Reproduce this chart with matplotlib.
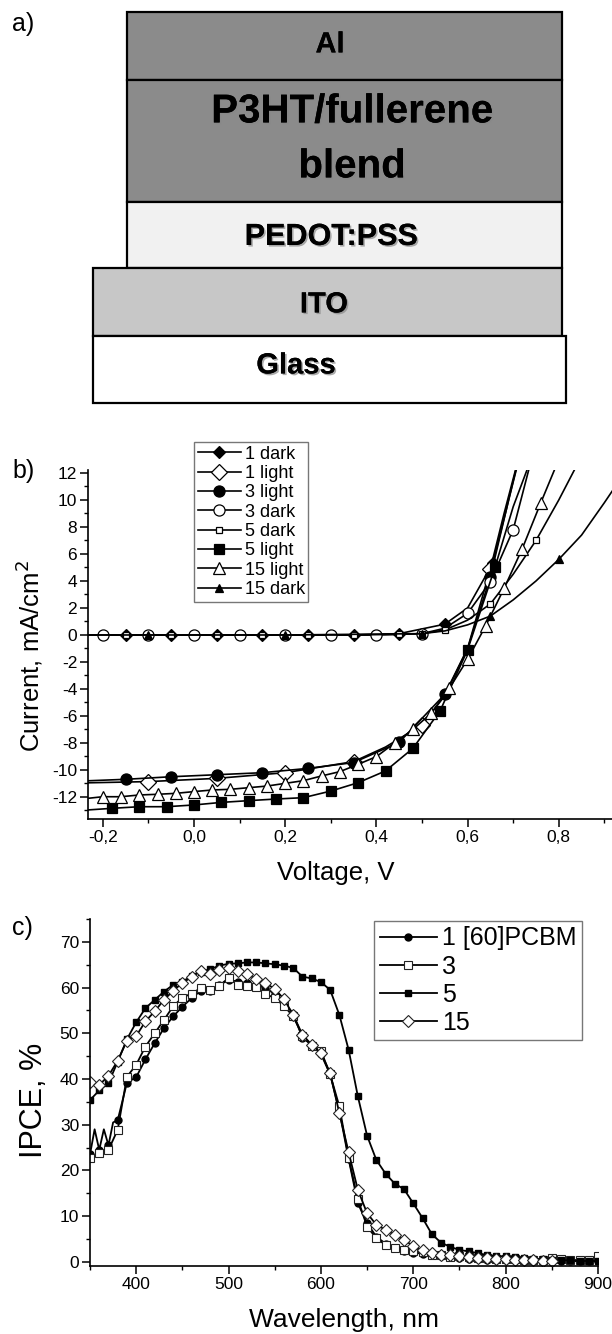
import numpy as np
import matplotlib
matplotlib.use("Agg")
import matplotlib.pyplot as plt
import matplotlib.patheffects as pe
from matplotlib.ticker import MultipleLocator, FuncFormatter

plt.rcParams['font.family'] = ['Liberation Sans', 'DejaVu Sans']
plt.rcParams['axes.unicode_minus'] = False

# ---- a) device stack ----
layer_names = ["Al", "P3HT/fullerene\nblend", "PEDOT:PSS", "ITO", "Glass"]
layer_heights = np.array([68, 122, 66, 68, 67])
layer_left = np.array([127, 127, 127, 93, 93])
layer_right = np.array([562, 562, 562, 562, 566])
layer_colors = ["#8b8b8b", "#8b8b8b", "#f1f1f1", "#c7c7c7", "#ffffff"]
layer_text_x = [330, 352, 331, 324, 296]
layer_text_y = [42, 108, 234, 302, 363]   # centre of the first text line
layer_font = [21, 29, 22, 21, 21]

# ---- b) J-V curves ----
jv_labels = ["1 dark", "1 light", "3 light", "3 dark", "5 dark", "5 light", "15 light", "15 dark"]
jv_x = [
    [-0.233, -0.15, -0.05, 0.05, 0.15, 0.25, 0.35, 0.45, 0.55, 0.6, 0.655, 0.685, 0.715],
    [-0.233, -0.1, 0.05, 0.2, 0.35, 0.42, 0.5, 0.55, 0.6, 0.65, 0.68, 0.715],
    [-0.233, -0.15, -0.05, 0.05, 0.15, 0.25, 0.35, 0.45, 0.55, 0.6, 0.65, 0.69, 0.72],
    [-0.233, -0.2, -0.1, 0.0, 0.1, 0.2, 0.3, 0.4, 0.5, 0.55, 0.6, 0.65, 0.7, 0.74],
    [-0.233, -0.15, -0.05, 0.05, 0.15, 0.25, 0.35, 0.45, 0.5, 0.55, 0.6, 0.65, 0.7, 0.75, 0.8, 0.84],
    [-0.233, -0.18, -0.12, -0.06, 0.0, 0.06, 0.12, 0.18, 0.24, 0.30, 0.36, 0.42, 0.48, 0.54, 0.6, 0.66, 0.7, 0.75],
    [-0.233, -0.2, -0.16, -0.12, -0.08, -0.04, 0.0, 0.04, 0.08, 0.12, 0.16, 0.2, 0.24, 0.28, 0.32, 0.36,
     0.4, 0.44, 0.48, 0.52, 0.56, 0.6, 0.64, 0.68, 0.72, 0.76, 0.8],
    [-0.233, -0.1, 0.2, 0.5, 0.55, 0.6, 0.65, 0.7, 0.75, 0.8, 0.85, 0.9, 0.93],
]
jv_y = [
    [0, 0, 0, 0, 0, 0, 0, 0.1, 0.8, 2.0, 5.3, 9.3, 13.5],
    [-10.95, -10.86, -10.62, -10.2, -9.38, -8.3, -6.67, -4.5, -1.0, 4.9, 9.0, 13.5],
    [-10.8, -10.69, -10.5, -10.35, -10.2, -9.88, -9.45, -7.95, -4.4, -1.0, 4.3, 10.0, 14.0],
    [0, 0, 0, 0, 0, 0, 0, 0, 0.1, 0.5, 1.6, 3.95, 7.8, 13.0],
    [0, 0, 0, 0, 0, 0, 0, 0.05, 0.1, 0.37, 1.1, 2.3, 4.5, 7.0, 10.0, 12.6],
    [-12.96, -12.84, -12.72, -12.72, -12.59, -12.4, -12.27, -12.15, -12.05, -11.56, -10.94, -10.07,
     -8.4, -5.6, -1.1, 5.0, 9.5, 14.0],
    [-12.1, -11.98, -11.98, -11.85, -11.8, -11.73, -11.6, -11.48, -11.43, -11.31, -11.19, -10.99,
     -10.79, -10.44, -10.12, -9.58, -9.01, -8.0, -7.0, -5.8, -3.95, -1.8, 0.7, 3.45, 6.4, 9.75, 13.0],
    [0, 0, 0, 0.1, 0.3, 0.75, 1.4, 2.6, 4.0, 5.6, 7.4, 9.8, 11.3],
]
# which measured points carry a symbol
jv_marked = [
    [1, 2, 3, 4, 5, 6, 7, 8, 10],
    [1, 2, 3, 4, 6, 9],
    [1, 2, 3, 4, 5, 6, 7, 8, 10],
    [1, 2, 3, 4, 5, 6, 7, 8, 10, 11, 12],
    [1, 2, 3, 4, 5, 6, 7, 8, 9, 11, 13],
    list(range(1, 16)),
    list(range(1, 26)),
    [1, 2, 3, 6, 9],
]
jv_marker = ["D", "D", "o", "o", "s", "s", "^", "^"]
jv_ms = [6, 8, 8, 8, 5, 6.5, 9, 6]
jv_face = ["black", "white", "black", "white", "white", "black", "white", "black"]

# ---- c) IPCE spectra ----
wl_1 = [350, 355, 360, 365, 370, 375, 380, 390, 400, 410, 420, 430, 440, 450, 460, 470, 480, 490, 500,
        510, 520, 530, 540, 550, 560, 570, 580, 590, 600, 610, 620, 630, 640, 650, 660, 670, 680, 690,
        700, 710, 720, 730, 740, 750, 760, 770, 780, 790, 800, 810, 820, 830, 840, 850, 860, 870, 880,
        890, 900]
ipce_1 = [23.5, 29.0, 24.5, 29.0, 25.5, 30.5, 31.0, 39.2, 40.4, 44.3, 47.8, 51.1, 53.7, 55.8, 57.7,
          59.3, 59.3, 60.5, 61.7, 61.3, 61.0, 60.6, 59.9, 58.6, 56.8, 54.3, 49.0, 47.5, 45.5, 41.0,
          33.0, 22.5, 12.8, 8.5, 5.5, 4.0, 3.0, 2.3, 2.0, 1.8, 1.5, 1.2, 1.0, 0.8, 0.7, 0.6, 0.5, 0.5,
          0.4, 0.4, 0.3, 0.3, 0.3, 0.3, 0.2, 0.2, 0.1, 0.1, 0.1]
wl_3 = list(range(350, 901, 10))
ipce_3 = [22.7, 23.8, 24.5, 28.9, 40.5, 43.1, 47.1, 50.0, 52.9, 55.9, 57.8, 58.7, 59.9, 59.5, 60.4,
          62.1, 60.6, 60.4, 60.1, 58.6, 57.7, 56.0, 53.7, 49.5, 47.3, 46.2, 41.0, 34.0, 22.7, 13.7,
          7.7, 5.2, 3.7, 3.0, 2.5, 2.3, 2.1, 1.6, 1.5, 1.0, 1.2, 1.0, 0.9, 0.8, 0.7, 0.6, 0.6, 0.5,
          0.5, 0.5, 0.9, 0.6, 0.4, 0.4, 0.4, 1.2]
wl_5 = list(range(350, 901, 10))
ipce_5 = [35.4, 37.5, 39.1, 43.8, 48.7, 52.4, 55.5, 57.3, 59.1, 60.6, 61.3, 62.5, 63.5, 64.0, 64.8,
          65.2, 65.3, 65.5, 65.5, 65.3, 65.1, 64.8, 64.3, 62.4, 62.0, 61.2, 59.5, 54.0, 46.4, 36.2,
          27.6, 22.3, 19.3, 17.1, 15.9, 12.8, 9.6, 6.1, 4.2, 3.3, 2.6, 2.3, 1.9, 1.5, 1.3, 1.2, 1.0,
          0.9, 0.7, 0.6, 0.5, 0.35, 0.35, 0.2, 0.2, 0.2]
wl_15 = list(range(350, 851, 10))
ipce_15 = [39.4, 38.7, 40.7, 44.0, 48.4, 49.4, 52.6, 54.8, 57.3, 59.3, 61.0, 62.3, 63.7, 63.0, 63.9,
           64.3, 63.7, 63.0, 61.8, 61.0, 59.7, 57.5, 54.0, 49.7, 47.5, 45.7, 41.3, 32.5, 24.0, 15.75,
           10.65, 8.1, 7.0, 5.9, 4.8, 3.5, 2.5, 1.9, 1.5, 1.5, 1.2, 1.1, 0.9, 0.9, 0.7, 0.6, 0.5, 0.5,
           0.5, 0.3, 0.3]
ipce_labels = ["1 [60]PCBM", "3", "5", "15"]

W, H = 612, 1334
fig = plt.figure(figsize=(W / 100, H / 100), dpi=100)


def fx(px):
    return px / W


def fy(py):
    return 1 - py / H


# ---------------- panel a ----------------
axa = fig.add_axes([0, fy(410), 1, 410 / H])
axa.set_xlim(0, W)
axa.set_ylim(410, 0)
axa.axis("off")
tops = 12 + np.concatenate([[0], np.cumsum(layer_heights)[:-1]])
axa.bar(layer_left, layer_heights, width=layer_right - layer_left, bottom=tops, align="edge",
        color=layer_colors, edgecolor="black", linewidth=1.6)
shadow = [pe.withSimplePatchShadow(offset=(1.2, -1.2), shadow_rgbFace="#888888", alpha=0.7), pe.Normal()]
for name, tx, ty, fs in zip(layer_names, layer_text_x, layer_text_y, layer_font):
    for k, line in enumerate(name.split("\n")):
        # baseline = visual centre of capitals + half cap height
        axa.text(tx, ty + k * 55 + 0.716 * fs * 100 / 72 / 2, line, ha="center", va="baseline",
                 fontsize=fs, fontweight="bold", path_effects=shadow)

# ---------------- panel b ----------------
axb = fig.add_axes([fx(88), fy(819), (W - 88) / W, (819 - 470) / H])
for lab, xs, ys, mk, m, ms, fc in zip(jv_labels, jv_x, jv_y, jv_marked, jv_marker, jv_ms, jv_face):
    axb.plot(xs, ys, color="black", lw=1.2, marker=m, ms=ms, mfc=fc, mec="black", mew=0.9,
             markevery=mk, label=lab)
axb.set_xlim(-0.2325, 0.9167)
axb.set_ylim(-13.63, 12.22)
axb.xaxis.set_major_locator(MultipleLocator(0.2))
axb.xaxis.set_minor_locator(MultipleLocator(0.1))
axb.yaxis.set_major_locator(MultipleLocator(2))
axb.yaxis.set_minor_locator(MultipleLocator(1))
axb.xaxis.set_major_formatter(FuncFormatter(lambda v, p: ("%.1f" % (0 if abs(v) < 1e-9 else v)).replace(".", ",")))
axb.yaxis.set_major_formatter(FuncFormatter(lambda v, p: "%d" % round(v)))

leg_b = axb.legend(loc="upper left", bbox_to_anchor=(fx(194), fy(442)), bbox_transform=fig.transFigure,
                   fontsize=13, frameon=True, fancybox=False, framealpha=1, edgecolor="#777777",
                   handlelength=2.4, handletextpad=0.2, labelspacing=0.13, borderpad=0.2,
                   borderaxespad=0)
leg_b.get_frame().set_linewidth(1.0)

# ---------------- panel c ----------------
axc = fig.add_axes([fx(90), fy(1266), 508 / W, (1266 - 919) / H])
mark10 = [w % 10 == 0 for w in wl_1]
axc.plot(wl_1, ipce_1, color="black", lw=1.3, marker="o", ms=5, mfc="black", mec="black",
         markevery=mark10, label=ipce_labels[0])
axc.plot(wl_3, ipce_3, color="black", lw=1.3, marker="s", ms=5.5, mfc="white", mec="#222222", mew=0.8,
         label=ipce_labels[1])
axc.plot(wl_5, ipce_5, color="black", lw=1.3, marker="s", ms=5, mfc="black", mec="black",
         label=ipce_labels[2])
axc.plot(wl_15, ipce_15, color="black", lw=1.3, marker="D", ms=6, mfc="white", mec="#222222", mew=0.8,
         label=ipce_labels[3])
axc.set_xlim(350, 900)
axc.set_ylim(-0.9, 75)
axc.xaxis.set_major_locator(MultipleLocator(100))
axc.xaxis.set_minor_locator(MultipleLocator(50))
axc.yaxis.set_major_locator(MultipleLocator(10))
axc.yaxis.set_minor_locator(MultipleLocator(5))
leg_c = axc.legend(loc="upper left", bbox_to_anchor=(fx(374), fy(921)), bbox_transform=fig.transFigure,
                   fontsize=18, frameon=True, fancybox=False, framealpha=1, edgecolor="#777777",
                   handlelength=2.3, handletextpad=0.2, labelspacing=0.16, borderpad=0.22,
                   borderaxespad=0)
leg_c.get_frame().set_linewidth(1.0)

for ax in (axb, axc):
    ax.spines["top"].set_visible(False)
    ax.spines["right"].set_visible(False)
    ax.spines["left"].set_linewidth(1.2)
    ax.spines["bottom"].set_linewidth(1.2)
    ax.tick_params(which="major", direction="out", length=5.8, width=1.1, labelsize=12.5, pad=2)
    ax.tick_params(which="minor", direction="out", length=3, width=1.0)

# labels
fig.text(fx(12), fy(24), "a)", fontsize=18, ha="left", va="center")
fig.text(fx(12), fy(471), "b)", fontsize=18, ha="left", va="center")
fig.text(fx(12), fy(928), "c)", fontsize=18, ha="left", va="center")
fig.text(fx(29), fy(656), "Current, mA/cm$^2$", fontsize=18.5, rotation=90, ha="center", va="center")
fig.text(fx(336), fy(873), "Voltage, V", fontsize=18.5, ha="center", va="center")
fig.text(fx(34), fy(1100), "IPCE, %", fontsize=22, rotation=90, ha="center", va="center")
fig.text(fx(344), fy(1320), "Wavelength, nm", fontsize=19, ha="center", va="center")

fig.savefig("out.png", dpi=100)
